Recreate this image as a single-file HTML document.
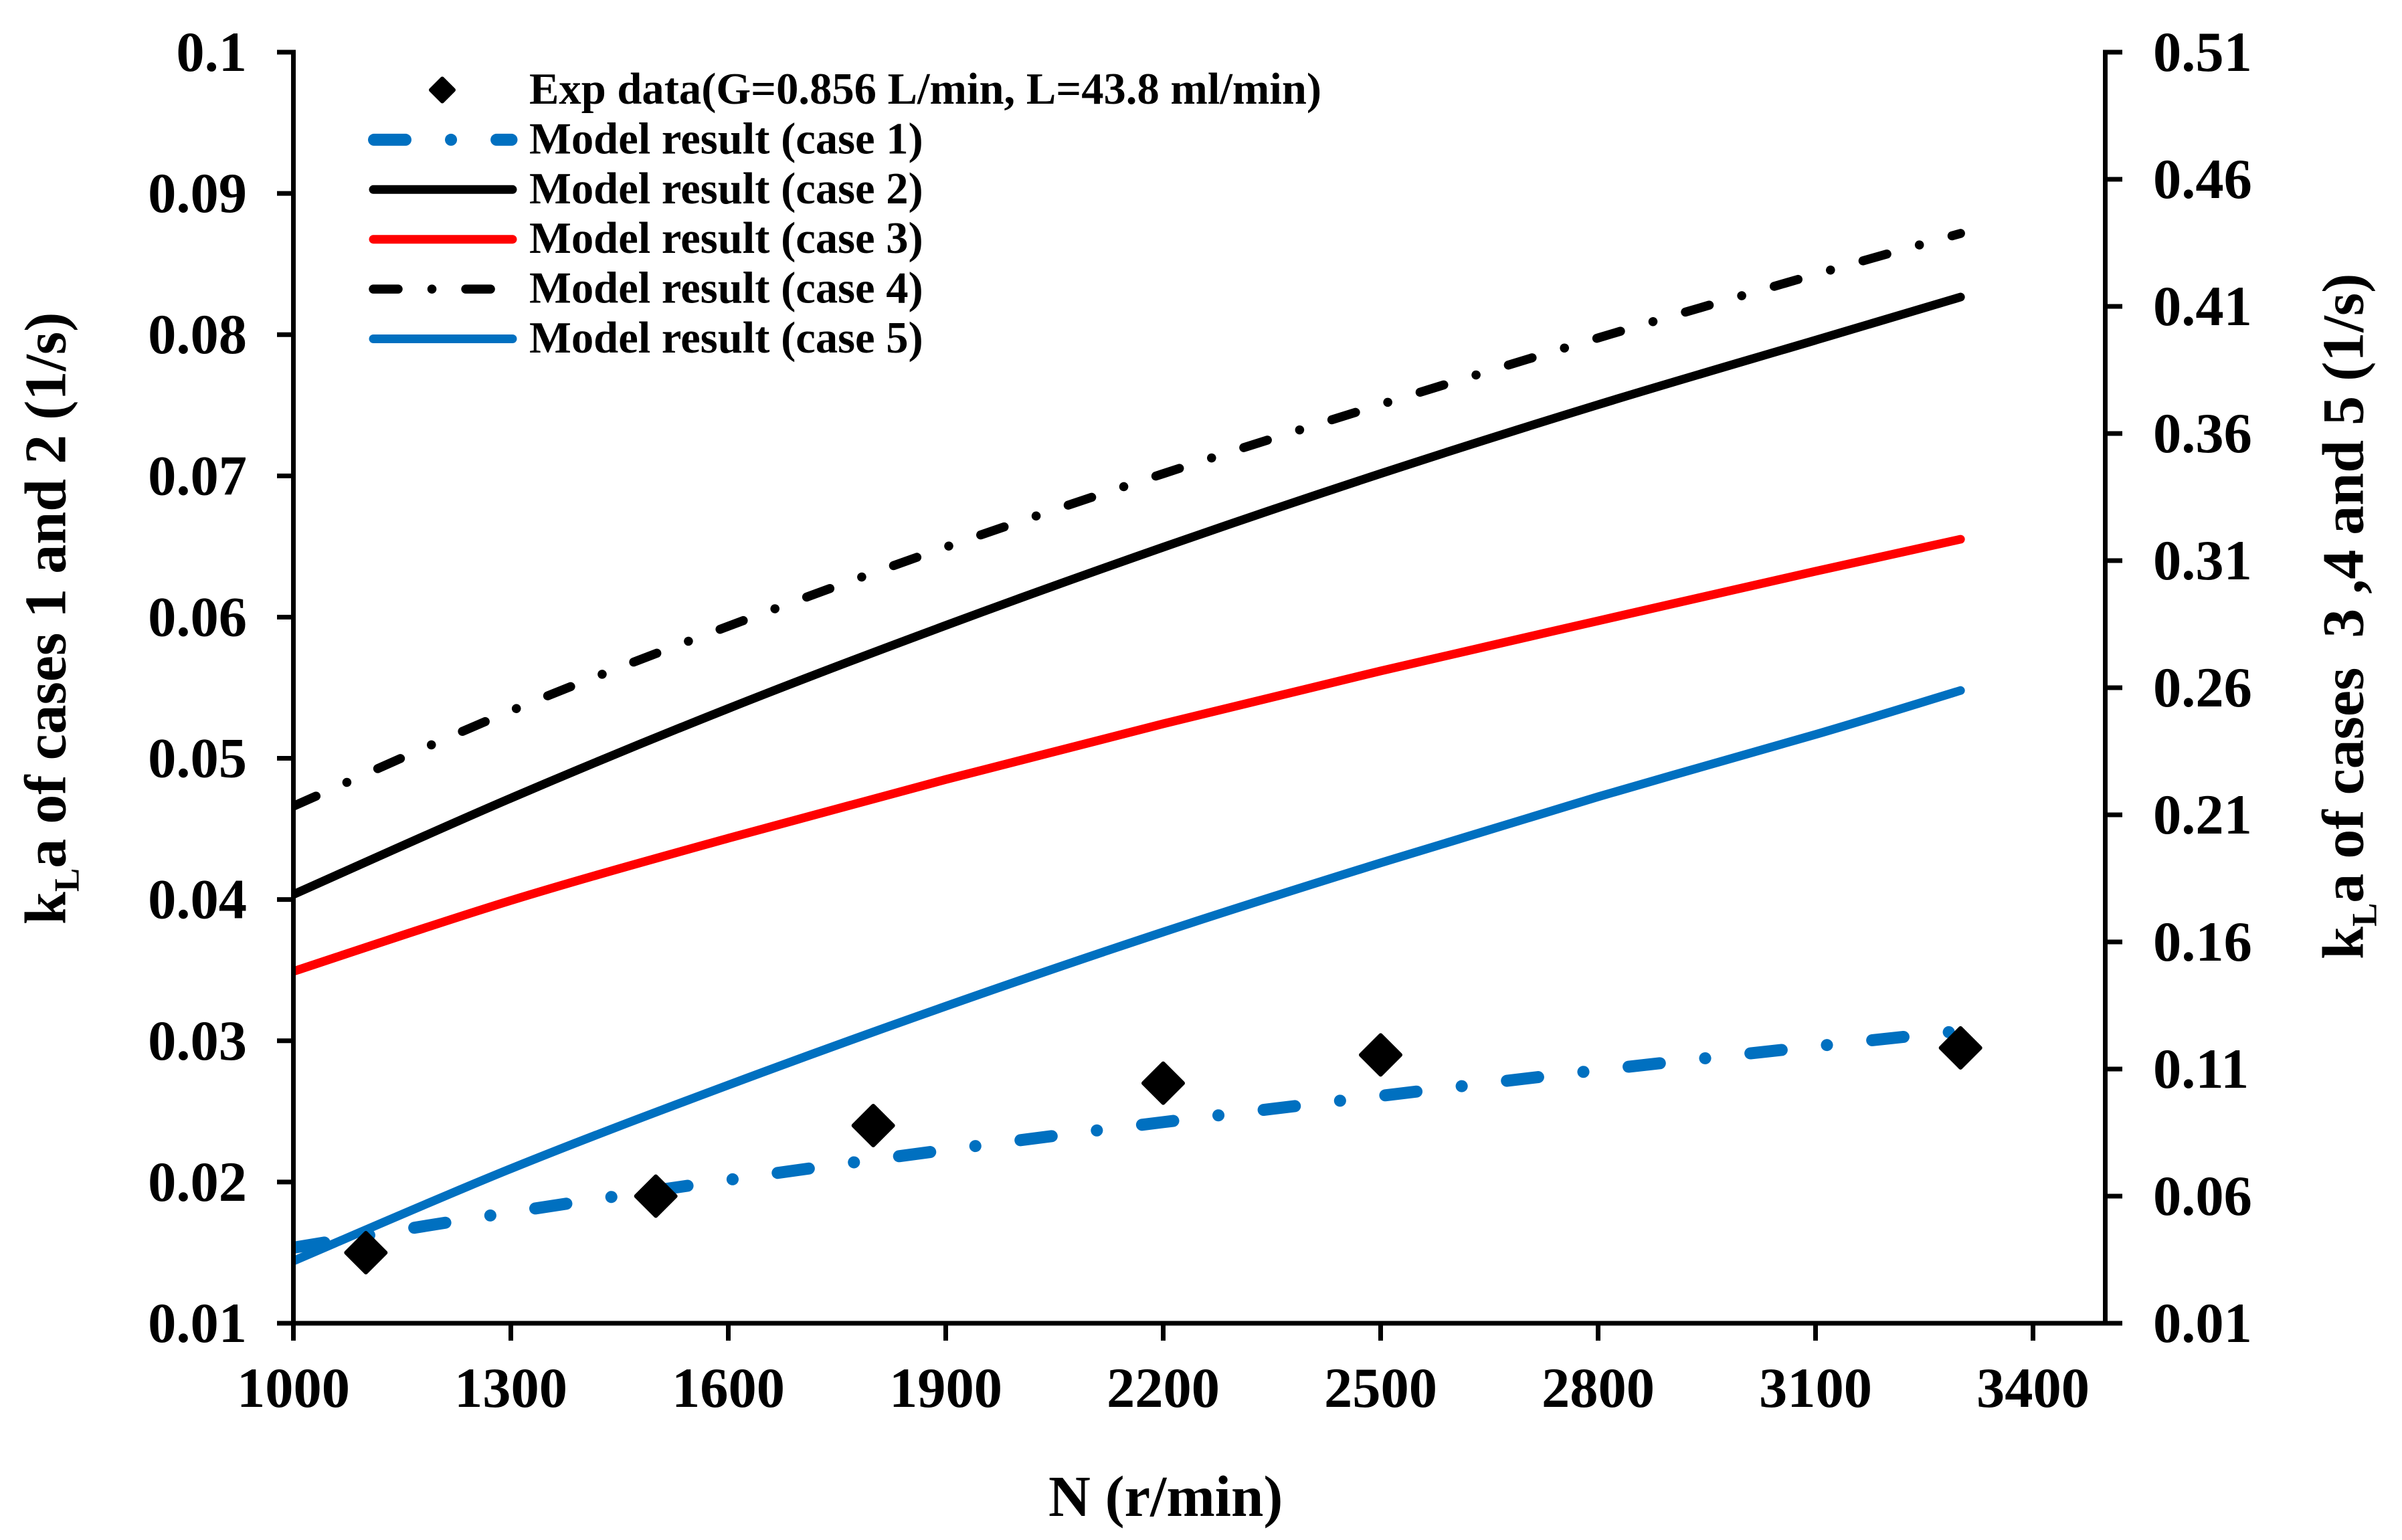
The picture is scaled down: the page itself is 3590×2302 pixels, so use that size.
<!DOCTYPE html>
<html lang="en">
<head>
<meta charset="utf-8">
<title>kLa versus rotation speed</title>
<style>
html,body{margin:0;padding:0;background:#fff;}
svg{display:block;}
text{font-family:"Liberation Serif","Times New Roman",serif;font-weight:bold;fill:#000;}
.tick{font-size:84.5px;}
.title{font-size:87px;}
.ytitle{font-size:88px;}
.leg{font-size:66.6px;}
</style>
</head>
<body>
<svg id="chart" xmlns="http://www.w3.org/2000/svg" width="3590" height="2302" viewBox="0 0 3590 2302">
<rect x="0" y="0" width="3590" height="2302" fill="#fff"/>
<defs><clipPath id="plot-clip"><rect x="438" y="60" width="2720" height="1930"/></clipPath></defs>
<g id="series" clip-path="url(#plot-clip)"></g>
<g id="markers"></g>
<g id="axes"></g>
<text class="title" x="1567" y="2266">N (r/min)</text>
<text class="ytitle" transform="translate(97.5,1382) rotate(-90)">k<tspan font-size="53" dy="20">L</tspan><tspan dy="-20">a of cases 1 and 2 (1/s)</tspan></text>
<text class="ytitle" transform="translate(3531.5,1434) rotate(-90)">k<tspan font-size="53" dy="20">L</tspan><tspan dy="-20">a of cases&#160; 3 ,4 and 5 (1/s)</tspan></text>
<g id="legend"></g>
</svg>
<script>
const speeds = [1000, 1300, 1600, 1900, 2200, 2500, 2800, 3100, 3300];
const case1 = [0.01535, 0.01786, 0.02015, 0.02227, 0.02424, 0.0261, 0.02792, 0.02961, 0.0307];
const case2 = [0.04036, 0.04718, 0.05353, 0.05941, 0.06495, 0.07016, 0.07504, 0.07961, 0.08266];
const case3 = [0.1484, 0.1763, 0.2008, 0.2239, 0.2458, 0.2666, 0.2863, 0.3058, 0.3184];
const case4 = [0.2134, 0.2509, 0.2842, 0.3153, 0.3442, 0.3714, 0.3976, 0.4226, 0.4387];
const case5 = [0.0345, 0.0708, 0.1037, 0.1347, 0.1639, 0.1911, 0.2171, 0.2416, 0.2589];
const expSpeeds = [1100, 1500, 1800, 2200, 2500, 3300];
const expValues = [0.015, 0.019, 0.024, 0.027, 0.029, 0.0295];
const xTickLabels = ['1000', '1300', '1600', '1900', '2200', '2500', '2800', '3100', '3400'];
const leftTickLabels = ['0.01', '0.02', '0.03', '0.04', '0.05', '0.06', '0.07', '0.08', '0.09', '0.1'];
const rightTickLabels = ['0.01', '0.06', '0.11', '0.16', '0.21', '0.26', '0.31', '0.36', '0.41', '0.46', '0.51'];
const legendLabels = ['Exp data(G=0.856 L/min, L=43.8 ml/min)', 'Model result (case 1)', 'Model result (case 2)', 'Model result (case 3)', 'Model result (case 4)', 'Model result (case 5)'];

const NS = 'http://www.w3.org/2000/svg';
const PLOT_LEFT = 438.5, PLOT_RIGHT = 3146.5, PLOT_TOP = 78, PLOT_BOTTOM = 1978;
const BLUE = '#0070C0', RED = '#FF0000', BLACK = '#000';
const DASH1 = '47 68 0.1 68', DASH4 = '37 50.5 0.1 50.5';

function xScale(n) { return PLOT_LEFT + (n - 1000) * (325 / 300); }
function yLeft(v) { return PLOT_BOTTOM - (v - 0.01) / 0.09 * (PLOT_BOTTOM - PLOT_TOP); }
function yRight(v) { return PLOT_BOTTOM - (v - 0.01) / 0.5 * (PLOT_BOTTOM - PLOT_TOP); }

function mk(tag, parent, attrs) {
  const el = document.createElementNS(NS, tag);
  for (const k in attrs) el.setAttribute(k, attrs[k]);
  parent.appendChild(el);
  return el;
}

function smoothPath(pts) {
  let d = 'M' + pts[0][0].toFixed(2) + ' ' + pts[0][1].toFixed(2);
  for (let i = 0; i < pts.length - 1; i++) {
    const p0 = pts[Math.max(i - 1, 0)], p1 = pts[i], p2 = pts[i + 1], p3 = pts[Math.min(i + 2, pts.length - 1)];
    const c1x = p1[0] + (p2[0] - p0[0]) / 6, c1y = p1[1] + (p2[1] - p0[1]) / 6;
    const c2x = p2[0] - (p3[0] - p1[0]) / 6, c2y = p2[1] - (p3[1] - p1[1]) / 6;
    d += 'C' + c1x.toFixed(2) + ' ' + c1y.toFixed(2) + ' ' + c2x.toFixed(2) + ' ' + c2y.toFixed(2) + ' ' + p2[0].toFixed(2) + ' ' + p2[1].toFixed(2);
  }
  return d;
}

function drawSeries(values, yFn, color, width, dash, name) {
  const pts = values.map(function (v, i) { return [xScale(speeds[i]), yFn(v)]; });
  const attrs = { d: smoothPath(pts), fill: 'none', stroke: color, 'stroke-width': width, 'stroke-linecap': 'round', 'stroke-linejoin': 'round' };
  if (dash) attrs['stroke-dasharray'] = dash;
  const p = mk('path', document.getElementById('series'), attrs);
  
  
}

drawSeries(case1, yLeft, BLUE, 18, DASH1, 'line-case-1');
drawSeries(case2, yLeft, BLACK, 13, null, 'line-case-2');
drawSeries(case3, yRight, RED, 13, null, 'line-case-3');
drawSeries(case4, yRight, BLACK, 13.5, DASH4, 'line-case-4');
drawSeries(case5, yRight, BLUE, 13, null, 'line-case-5');

function diamond(parent, cx, cy, r) {
  const s = r - 3;
  return mk('polygon', parent, {
    points: cx + ',' + (cy - s) + ' ' + (cx + s) + ',' + cy + ' ' + cx + ',' + (cy + s) + ' ' + (cx - s) + ',' + cy,
    fill: BLACK, stroke: BLACK, 'stroke-width': 6, 'stroke-linejoin': 'round'
  });
}

const markerGroup = document.getElementById('markers');
expValues.forEach(function (v, i) {
  const d = diamond(markerGroup, xScale(expSpeeds[i]), yLeft(v), 32.5);
  
  
});

const axes = document.getElementById('axes');
const AXW = 7;
function axisLine(x1, y1, x2, y2, name) {
  const l = mk('line', axes, { x1: x1, y1: y1, x2: x2, y2: y2, stroke: BLACK, 'stroke-width': AXW });
  
  
}
axisLine(PLOT_LEFT, PLOT_TOP - 3.5, PLOT_LEFT, 2004, 'left-y-axis');
axisLine(PLOT_RIGHT, PLOT_TOP - 3.5, PLOT_RIGHT, PLOT_BOTTOM, 'right-y-axis');
axisLine(414, PLOT_BOTTOM, 3172, PLOT_BOTTOM, 'x-axis');

leftTickLabels.forEach(function (t) {
  const y = yLeft(parseFloat(t));
  axisLine(414, y, PLOT_LEFT, y, 'left-y-tick');
  const el = mk('text', axes, { class: 'tick', x: 369, y: y + 28, 'text-anchor': 'end' });
  el.textContent = t;
  
  
});
rightTickLabels.forEach(function (t) {
  const y = yRight(parseFloat(t));
  axisLine(PLOT_RIGHT, y, 3172, y, 'right-y-tick');
  const el = mk('text', axes, { class: 'tick', x: 3218, y: y + 28 });
  el.textContent = t;
  
  
});
xTickLabels.forEach(function (t) {
  const x = xScale(parseFloat(t));
  axisLine(x, PLOT_BOTTOM, x, 2004, 'x-tick');
  const el = mk('text', axes, { class: 'tick', x: x, y: 2103, 'text-anchor': 'middle' });
  el.textContent = t;
  
  
});

const legend = document.getElementById('legend');
const legendRowH = 74.4, legendTop = 155;
const legendStyles = [null, [BLUE, 18, DASH1, 559, 764.5], [BLACK, 13, null, 558, 766], [RED, 13, null, 558, 766], [BLACK, 13.5, DASH4, 558, 767], [BLUE, 13, null, 558, 766]];
legendLabels.forEach(function (label, i) {
  const base = legendTop + i * legendRowH;
  const cy = base - 20.5;
  const st = legendStyles[i];
  if (st) {
    const attrs = { x1: st[3], y1: cy, x2: st[4], y2: cy, stroke: st[0], 'stroke-width': st[1], 'stroke-linecap': 'round' };
    if (st[2]) attrs['stroke-dasharray'] = st[2];
    const l = mk('line', legend, attrs);
    
    
  } else {
    const d = diamond(legend, 661, cy, 20);
    
    
  }
  const t = mk('text', legend, { class: 'leg', x: 791, y: base });
  t.textContent = label;
  
  
});
</script>
</body>
</html>
